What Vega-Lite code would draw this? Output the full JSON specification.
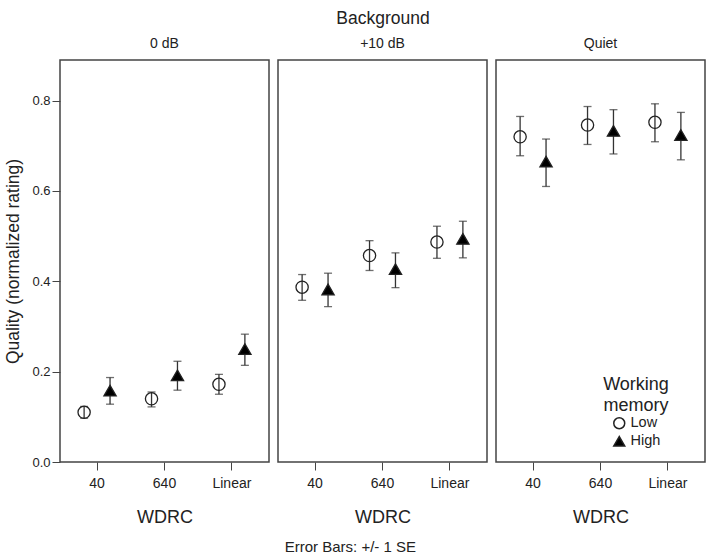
{
  "$schema": "https://vega.github.io/schema/vega-lite/v6.json",
  "background": "white",
  "padding": {"top": 9, "left": 4, "right": 2, "bottom": 5},
  "bounds": "flush",
  "config": {
    "font": "Liberation Sans",
    "view": {"stroke": "#444", "strokeWidth": 1.5},
    "header": {"labelFontSize": 14, "labelFont": "Liberation Sans", "labelColor": "#222", "titleFontSize": 17.5, "titleFont": "Liberation Sans", "titleColor": "#222", "titleFontWeight": "normal"},
    "axis": {"grid": false, "domainColor": "#444", "tickColor": "#444", "labelColor": "#222", "titleColor": "#222", "labelFont": "Liberation Sans", "titleFont": "Liberation Sans", "titleFontWeight": "normal"}
  },
  "title": {"text": "Error Bars: +/- 1 SE", "orient": "bottom", "fontSize": 15, "fontWeight": "normal", "font": "Liberation Sans", "color": "#222", "offset": 14, "anchor": "middle", "dx": -5},
  "data": {"values": [
    {"bg": "0 dB", "wdrc": "40", "wm": "Low", "q": 0.110, "lo": 0.097, "hi": 0.123},
    {"bg": "0 dB", "wdrc": "40", "wm": "High", "q": 0.158, "lo": 0.128, "hi": 0.187},
    {"bg": "0 dB", "wdrc": "640", "wm": "Low", "q": 0.140, "lo": 0.122, "hi": 0.155},
    {"bg": "0 dB", "wdrc": "640", "wm": "High", "q": 0.192, "lo": 0.159, "hi": 0.223},
    {"bg": "0 dB", "wdrc": "Linear", "wm": "Low", "q": 0.172, "lo": 0.150, "hi": 0.194},
    {"bg": "0 dB", "wdrc": "Linear", "wm": "High", "q": 0.250, "lo": 0.214, "hi": 0.283},
    {"bg": "+10 dB", "wdrc": "40", "wm": "Low", "q": 0.387, "lo": 0.358, "hi": 0.415},
    {"bg": "+10 dB", "wdrc": "40", "wm": "High", "q": 0.382, "lo": 0.344, "hi": 0.418},
    {"bg": "+10 dB", "wdrc": "640", "wm": "Low", "q": 0.457, "lo": 0.424, "hi": 0.490},
    {"bg": "+10 dB", "wdrc": "640", "wm": "High", "q": 0.427, "lo": 0.386, "hi": 0.463},
    {"bg": "+10 dB", "wdrc": "Linear", "wm": "Low", "q": 0.487, "lo": 0.451, "hi": 0.522},
    {"bg": "+10 dB", "wdrc": "Linear", "wm": "High", "q": 0.494, "lo": 0.452, "hi": 0.533},
    {"bg": "Quiet", "wdrc": "40", "wm": "Low", "q": 0.720, "lo": 0.678, "hi": 0.765},
    {"bg": "Quiet", "wdrc": "40", "wm": "High", "q": 0.665, "lo": 0.610, "hi": 0.715},
    {"bg": "Quiet", "wdrc": "640", "wm": "Low", "q": 0.746, "lo": 0.703, "hi": 0.787},
    {"bg": "Quiet", "wdrc": "640", "wm": "High", "q": 0.733, "lo": 0.682, "hi": 0.780},
    {"bg": "Quiet", "wdrc": "Linear", "wm": "Low", "q": 0.752, "lo": 0.709, "hi": 0.793},
    {"bg": "Quiet", "wdrc": "Linear", "wm": "High", "q": 0.724, "lo": 0.669, "hi": 0.774}
  ]},
  "facet": {
    "column": {
      "field": "bg", "type": "nominal", "sort": ["0 dB", "+10 dB", "Quiet"],
      "header": {"title": "Background", "titleFontSize": 17.5, "titleFont": "Liberation Sans", "titleColor": "#222", "titleFontWeight": "normal", "titlePadding": 0, "labelFontSize": 14, "labelFont": "Liberation Sans", "labelColor": "#222", "labelPadding": 9}
    }
  },
  "spacing": 9,
  "spec": {
    "width": 209,
    "height": 402,
    "encoding": {
      "x": {"field": "wdrc", "type": "nominal", "sort": ["40", "640", "Linear"], "scale": {"paddingInner": 0, "paddingOuter": 0.05},
        "axis": {"title": "WDRC", "labelAngle": 0, "labelFontSize": 14, "titleFontSize": 18, "tickSize": 8, "labelPadding": 6, "titlePadding": 18, "domain": false}},
      "xOffset": {"field": "wm", "type": "nominal", "sort": ["Low", "High"], "scale": {"paddingInner": 0, "paddingOuter": 0.3}}
    },
    "layer": [
      {"mark": {"type": "rule", "color": "#333", "strokeWidth": 1.3},
       "encoding": {"y": {"field": "lo", "type": "quantitative"}, "y2": {"field": "hi"}}},
      {"mark": {"type": "tick", "color": "#333", "size": 8, "thickness": 1.3, "orient": "horizontal"},
       "encoding": {"y": {"field": "lo", "type": "quantitative"}}},
      {"mark": {"type": "tick", "color": "#333", "size": 8, "thickness": 1.3, "orient": "horizontal"},
       "encoding": {"y": {"field": "hi", "type": "quantitative"}}},
      {"mark": {"type": "point", "filled": true, "size": 150, "stroke": "#222", "strokeWidth": 1.3, "opacity": 1},
       "encoding": {
         "y": {"field": "q", "type": "quantitative", "scale": {"domain": [0, 0.89], "nice": false, "zero": true},
           "axis": {"title": "Quality (normalized rating)", "values": [0, 0.2, 0.4, 0.6, 0.8], "format": ".1f", "labelFontSize": 13, "titleFontSize": 17.5, "tickSize": 8, "labelPadding": 2, "titlePadding": 9, "domain": false}},
         "shape": {"field": "wm", "type": "nominal", "sort": ["Low", "High"], "scale": {"domain": ["Low", "High"], "range": ["circle", "triangle-up"]}, "title": ["Working", "memory"],
           "legend": {"orient": "none", "legendX": 543, "legendY": 316, "titleFontSize": 18, "titleFontWeight": "normal", "titleColor": "#222", "titleAlign": "center", "titleAnchor": "middle", "titleLineHeight": 21, "labelFontSize": 14.5, "labelColor": "#222", "symbolSize": 120, "rowPadding": 1, "titlePadding": 1,
             "encode": {"symbols": {"update": {"stroke": {"value": "#222"}, "strokeWidth": {"value": 1.3}}}}}},
         "fill": {"field": "wm", "type": "nominal", "sort": ["Low", "High"], "scale": {"domain": ["Low", "High"], "range": ["rgba(0,0,0,0)", "#000"]}, "title": ["Working", "memory"]}
       }}
    ]
  }
}
